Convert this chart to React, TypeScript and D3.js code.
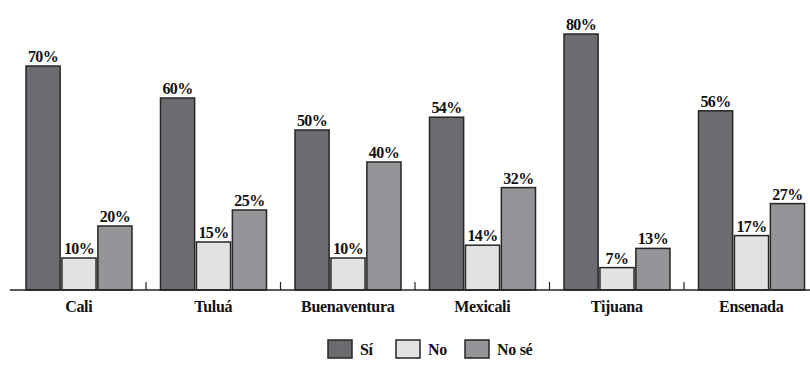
import React from "react";
import * as d3 from "d3";

const cities = ["Cali", "Tuluá", "Buenaventura", "Mexicali", "Tijuana", "Ensenada"];
const series = ["Sí", "No", "No sé"];
const si = [70, 60, 50, 54, 80, 56];
const no = [10, 15, 10, 14, 7, 17];
const noSe = [20, 25, 40, 32, 13, 27];
const colors = ["#6b6c70", "#e1e2e3", "#949598"];

const W = 810;
const H = 365;
const base = 290;

const App = () => {
  const values = [si, no, noSe];

  const x0 = d3.scaleBand().domain(cities).range([11.5, 818.5]);
  const x1 = d3.scaleBand().domain(series).range([14.5, 120.5]).paddingInner(0.05);
  const y = d3.scaleLinear().domain([0, 80]).range([base, 34]);

  const font = "'Liberation Serif', 'DejaVu Serif', serif";

  // tick marks between categories
  const ticks = cities.slice(1).map(c => x0(c));

  const legendX = [328, 396, 465];

  return (
    <svg width={W} height={H} style={{ position: "absolute", top: 0, left: 0 }}>
      <rect width={W} height={H} fill="#fff" />
      {cities.map((c, i) => (
        <g key={c} transform={`translate(${x0(c)},0)`}>
          {series.map((s, j) => {
            const v = values[j][i];
            const bx = x1(s);
            const bw = x1.bandwidth();
            return (
              <g key={s}>
                <rect
                  x={bx}
                  y={y(v)}
                  width={bw}
                  height={base - y(v)}
                  fill={colors[j]}
                  stroke="#262626"
                  strokeWidth={1.5}
                />
                <text
                  x={bx + bw / 2}
                  y={y(v) - 4}
                  textAnchor="middle"
                  fontFamily={font}
                  fontWeight="bold"
                  fontSize={16}
                  letterSpacing={-0.6}
                  fill="#111"
                >
                  {v}%
                </text>
              </g>
            );
          })}
          <text
            x={x0.bandwidth() / 2}
            y={base + 22}
            textAnchor="middle"
            fontFamily={font}
            fontWeight="bold"
            fontSize={16}
            letterSpacing={-0.3}
            fill="#111"
          >
            {c}
          </text>
        </g>
      ))}
      <line x1={10} x2={W} y1={base} y2={base} stroke="#222" strokeWidth={1.5} />
      {ticks.map((t, i) => (
        <line key={i} x1={t} x2={t} y1={base} y2={base - 8} stroke="#222" strokeWidth={1.2} />
      ))}
      {series.map((s, j) => (
        <g key={s} transform={`translate(${legendX[j]},340)`}>
          <rect width={24} height={18} fill={colors[j]} stroke="#262626" strokeWidth={1.5} />
          <text
            x={32}
            y={15}
            fontFamily={font}
            fontWeight="bold"
            fontSize={16}
            letterSpacing={-0.3}
            fill="#111"
          >
            {s}
          </text>
        </g>
      ))}
    </svg>
  );
};

export default App;
